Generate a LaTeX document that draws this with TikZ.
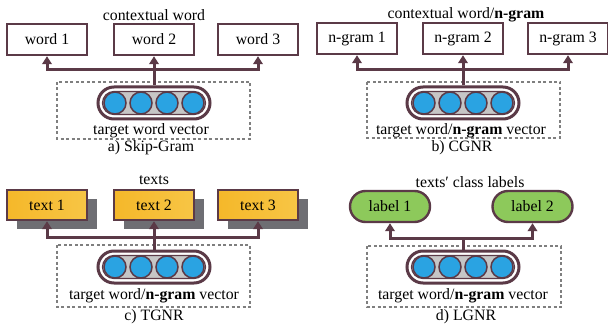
\documentclass[tikz,border=0pt]{standalone}
\usepackage{fontspec}
\setmainfont{Liberation Serif}
\usetikzlibrary{arrows.meta,shapes.misc,shadows,calc}
\definecolor{dk}{HTML}{5B3A47}
\definecolor{yel}{HTML}{F5B82A}
\definecolor{yell}{HTML}{F7C545}
\definecolor{grn}{HTML}{8DC95B}
\definecolor{shd}{HTML}{6E6E73}
\definecolor{blu}{HTML}{2AA3E2}
\definecolor{pillg}{HTML}{C6C6C6}
\definecolor{dsh}{HTML}{7F7F7F}
\tikzset{
  wordbox/.style={draw=dk,line width=2.4pt,fill=white,minimum width=80pt,minimum height=31pt,inner sep=0pt},
  textbox/.style={draw=dk,line width=2.4pt,left color=yel,right color=yell,minimum width=80pt,minimum height=30pt,inner sep=0pt,
     drop shadow={shadow xshift=10pt,shadow yshift=-9pt,fill=shd,opacity=1}},
  labelbox/.style={rounded rectangle,draw=dk,line width=2.4pt,fill=grn,minimum width=80pt,minimum height=31pt,inner sep=0pt},
  pillout/.style={rounded rectangle,draw=dk,line width=3pt,fill=white,minimum width=112pt,minimum height=32pt,inner sep=0pt},
  pillin/.style={rounded rectangle,draw=dk,line width=1.2pt,fill=pillg,minimum width=103pt,minimum height=23pt,inner sep=0pt},
  neuron/.style={circle,draw=dk,line width=1.5pt,fill=blu,minimum size=22pt,inner sep=0pt},
  dbox/.style={draw=dsh,line width=1.3pt,dash pattern=on 3pt off 2.5pt},
  conn/.style={draw=dk,line width=3pt},
  arr/.style={conn,-{Triangle[width=9.5pt,length=8pt]}},
  txt/.style={inner sep=0pt}
}
\newcommand{\pillvec}[3]{% name, x, y
  \node[pillout] (#1) at (#2,#3) {};
  \node[pillin] (#1i) at (#2,#3) {};
  \node[neuron] (#1a) at ($(#2,#3)+(-39,0)$) {};
  \node[neuron] (#1b) at ($(#2,#3)+(-13,0)$) {};
  \node[neuron] (#1c) at ($(#2,#3)+(13,0)$) {};
  \node[neuron] (#1d) at ($(#2,#3)+(39,0)$) {};
}
\begin{document}
\begin{tikzpicture}[x=1pt,y=-1pt,font=\fontsize{15.8}{18}\selectfont]
\useasboundingbox (0,0) rectangle (608,326);

% ---------- a) Skip-Gram
\node[txt] (ta) at (154,15) {contextual word};
\node[wordbox] (a1) at (47,39.5) {word 1};
\node[wordbox] (a2) at (154,39.5) {word 2};
\node[wordbox] (a3) at (258,39.5) {word 3};
\draw[dbox] (57,82) rectangle (250,139);
\pillvec{pa}{154}{103}
\node[txt] (va) at (151,131) {target word vector};
\node[txt] (ca) at (151,148) {a) Skip-Gram};
\coordinate (ja) at (154,70);
\draw[conn] (pa.north) -- (ja);
\draw[arr] (ja) -| (a1.south);
\draw[arr] (ja) -| (a3.south);
\draw[arr] (ja) -- (a2.south);

% ---------- b) CGNR
\node[txt] (tb) at (466,15) {contextual word/\textbf{n-gram}};
\node[wordbox] (b1) at (357,38.5) {n-gram 1};
\node[wordbox] (b2) at (463,38.5) {n-gram 2};
\node[wordbox] (b3) at (568,38.5) {n-gram 3};
\draw[dbox] (367,82) rectangle (560,138);
\pillvec{pb}{463}{103}
\node[txt] (vb) at (461,131) {target word/\textbf{n-gram} vector};
\node[txt] (cb) at (462,148) {b) CGNR};
\coordinate (jb) at (463,70);
\draw[conn] (pb.north) -- (jb);
\draw[arr] (jb) -| (b1.south);
\draw[arr] (jb) -| (b3.south);
\draw[arr] (jb) -- (b2.south);

% ---------- c) TGNR
\node[txt] (tc) at (154,180) {texts};
\node[textbox] (c1) at (47,205) {text 1};
\node[textbox] (c2) at (154,205) {text 2};
\node[textbox] (c3) at (258,205) {text 3};
\draw[dbox] (57,245) rectangle (250,307);
\pillvec{pc}{154}{267}
\node[txt] (vc) at (154,296) {target word/\textbf{n-gram} vector};
\node[txt] (cc) at (154,317) {c) TGNR};
\coordinate (jc) at (154,237);
\draw[conn] (pc.north) -- (jc);
\draw[arr] (jc) -| (c1.south);
\draw[arr] (jc) -| (c3.south);
\draw[arr] (jc) -- (c2.south);

% ---------- d) LGNR
\node[txt] (td) at (470,182) {texts′ class labels};
\node[labelbox] (d1) at (390,206.5) {label 1};
\node[labelbox] (d2) at (532.5,206.5) {label 2};
\draw[dbox] (367,246) rectangle (561,307);
\pillvec{pd}{463}{267}
\node[txt] (vd) at (463,296) {target word/\textbf{n-gram} vector};
\node[txt] (cd) at (466,317) {d) LGNR};
\coordinate (jd) at (463,238);
\draw[conn] (pd.north) -- (jd);
\draw[arr] (jd) -| (d1.south);
\draw[arr] (jd) -| (d2.south);
\end{tikzpicture}
\end{document}
